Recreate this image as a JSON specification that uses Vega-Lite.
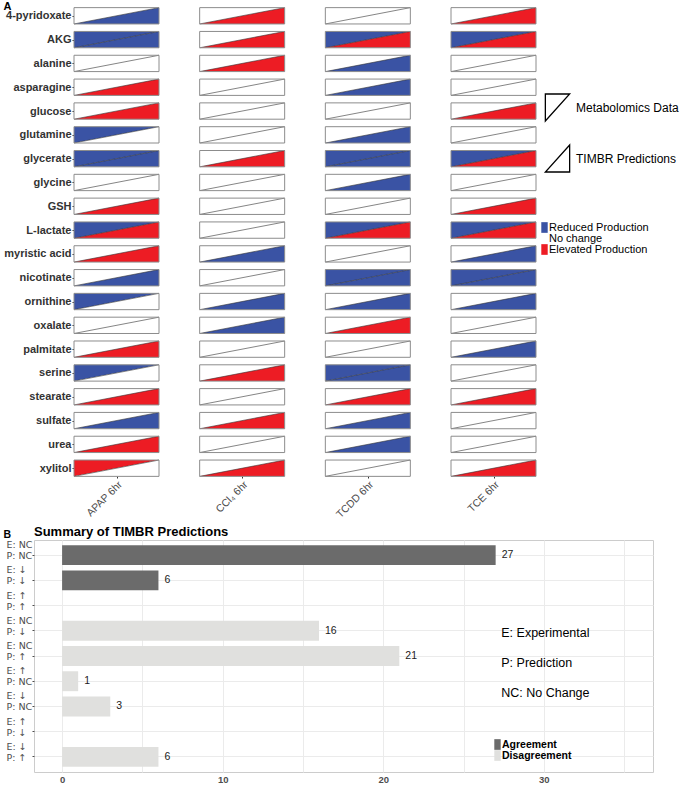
{
  "$schema": "https://vega.github.io/schema/vega-lite/v6.json",
  "padding": {"left": 2, "top": 0, "right": 0, "bottom": 0},
  "config": {"font": "Liberation Sans", "view": {"stroke": null}},
  "columns": 1,
  "align": "none",
  "spacing": 5,
  "concat": [
    {
      "width": 502,
      "height": 468,
      "resolve": {"scale": {"shape": "independent"}},
      "data": {"values": [
        {"m":"4-pyridoxate","c":"APAP 6hr","e":"NC","p":"down"},
        {"m":"AKG","c":"APAP 6hr","e":"down","p":"down"},
        {"m":"alanine","c":"APAP 6hr","e":"NC","p":"NC"},
        {"m":"asparagine","c":"APAP 6hr","e":"NC","p":"up"},
        {"m":"glucose","c":"APAP 6hr","e":"NC","p":"up"},
        {"m":"glutamine","c":"APAP 6hr","e":"down","p":"NC"},
        {"m":"glycerate","c":"APAP 6hr","e":"down","p":"down"},
        {"m":"glycine","c":"APAP 6hr","e":"NC","p":"NC"},
        {"m":"GSH","c":"APAP 6hr","e":"NC","p":"up"},
        {"m":"L-lactate","c":"APAP 6hr","e":"down","p":"up"},
        {"m":"myristic acid","c":"APAP 6hr","e":"NC","p":"up"},
        {"m":"nicotinate","c":"APAP 6hr","e":"NC","p":"down"},
        {"m":"ornithine","c":"APAP 6hr","e":"down","p":"NC"},
        {"m":"oxalate","c":"APAP 6hr","e":"NC","p":"NC"},
        {"m":"palmitate","c":"APAP 6hr","e":"NC","p":"up"},
        {"m":"serine","c":"APAP 6hr","e":"down","p":"NC"},
        {"m":"stearate","c":"APAP 6hr","e":"NC","p":"up"},
        {"m":"sulfate","c":"APAP 6hr","e":"NC","p":"down"},
        {"m":"urea","c":"APAP 6hr","e":"NC","p":"up"},
        {"m":"xylitol","c":"APAP 6hr","e":"up","p":"NC"},
        {"m":"4-pyridoxate","c":"CCl₄ 6hr","e":"NC","p":"up"},
        {"m":"AKG","c":"CCl₄ 6hr","e":"NC","p":"up"},
        {"m":"alanine","c":"CCl₄ 6hr","e":"NC","p":"up"},
        {"m":"asparagine","c":"CCl₄ 6hr","e":"NC","p":"NC"},
        {"m":"glucose","c":"CCl₄ 6hr","e":"NC","p":"NC"},
        {"m":"glutamine","c":"CCl₄ 6hr","e":"NC","p":"NC"},
        {"m":"glycerate","c":"CCl₄ 6hr","e":"NC","p":"up"},
        {"m":"glycine","c":"CCl₄ 6hr","e":"NC","p":"NC"},
        {"m":"GSH","c":"CCl₄ 6hr","e":"NC","p":"NC"},
        {"m":"L-lactate","c":"CCl₄ 6hr","e":"NC","p":"NC"},
        {"m":"myristic acid","c":"CCl₄ 6hr","e":"NC","p":"down"},
        {"m":"nicotinate","c":"CCl₄ 6hr","e":"NC","p":"NC"},
        {"m":"ornithine","c":"CCl₄ 6hr","e":"NC","p":"down"},
        {"m":"oxalate","c":"CCl₄ 6hr","e":"NC","p":"down"},
        {"m":"palmitate","c":"CCl₄ 6hr","e":"NC","p":"NC"},
        {"m":"serine","c":"CCl₄ 6hr","e":"NC","p":"up"},
        {"m":"stearate","c":"CCl₄ 6hr","e":"NC","p":"NC"},
        {"m":"sulfate","c":"CCl₄ 6hr","e":"NC","p":"up"},
        {"m":"urea","c":"CCl₄ 6hr","e":"NC","p":"NC"},
        {"m":"xylitol","c":"CCl₄ 6hr","e":"NC","p":"up"},
        {"m":"4-pyridoxate","c":"TCDD 6hr","e":"NC","p":"NC"},
        {"m":"AKG","c":"TCDD 6hr","e":"down","p":"up"},
        {"m":"alanine","c":"TCDD 6hr","e":"NC","p":"down"},
        {"m":"asparagine","c":"TCDD 6hr","e":"NC","p":"down"},
        {"m":"glucose","c":"TCDD 6hr","e":"NC","p":"NC"},
        {"m":"glutamine","c":"TCDD 6hr","e":"NC","p":"down"},
        {"m":"glycerate","c":"TCDD 6hr","e":"down","p":"down"},
        {"m":"glycine","c":"TCDD 6hr","e":"NC","p":"down"},
        {"m":"GSH","c":"TCDD 6hr","e":"NC","p":"NC"},
        {"m":"L-lactate","c":"TCDD 6hr","e":"down","p":"up"},
        {"m":"myristic acid","c":"TCDD 6hr","e":"NC","p":"NC"},
        {"m":"nicotinate","c":"TCDD 6hr","e":"down","p":"down"},
        {"m":"ornithine","c":"TCDD 6hr","e":"NC","p":"down"},
        {"m":"oxalate","c":"TCDD 6hr","e":"NC","p":"up"},
        {"m":"palmitate","c":"TCDD 6hr","e":"NC","p":"NC"},
        {"m":"serine","c":"TCDD 6hr","e":"down","p":"down"},
        {"m":"stearate","c":"TCDD 6hr","e":"NC","p":"up"},
        {"m":"sulfate","c":"TCDD 6hr","e":"NC","p":"down"},
        {"m":"urea","c":"TCDD 6hr","e":"NC","p":"down"},
        {"m":"xylitol","c":"TCDD 6hr","e":"NC","p":"NC"},
        {"m":"4-pyridoxate","c":"TCE 6hr","e":"NC","p":"up"},
        {"m":"AKG","c":"TCE 6hr","e":"down","p":"up"},
        {"m":"alanine","c":"TCE 6hr","e":"NC","p":"NC"},
        {"m":"asparagine","c":"TCE 6hr","e":"NC","p":"NC"},
        {"m":"glucose","c":"TCE 6hr","e":"NC","p":"up"},
        {"m":"glutamine","c":"TCE 6hr","e":"NC","p":"NC"},
        {"m":"glycerate","c":"TCE 6hr","e":"down","p":"up"},
        {"m":"glycine","c":"TCE 6hr","e":"NC","p":"NC"},
        {"m":"GSH","c":"TCE 6hr","e":"NC","p":"up"},
        {"m":"L-lactate","c":"TCE 6hr","e":"down","p":"up"},
        {"m":"myristic acid","c":"TCE 6hr","e":"NC","p":"down"},
        {"m":"nicotinate","c":"TCE 6hr","e":"down","p":"down"},
        {"m":"ornithine","c":"TCE 6hr","e":"NC","p":"down"},
        {"m":"oxalate","c":"TCE 6hr","e":"NC","p":"NC"},
        {"m":"palmitate","c":"TCE 6hr","e":"NC","p":"down"},
        {"m":"serine","c":"TCE 6hr","e":"NC","p":"NC"},
        {"m":"stearate","c":"TCE 6hr","e":"NC","p":"up"},
        {"m":"sulfate","c":"TCE 6hr","e":"NC","p":"NC"},
        {"m":"urea","c":"TCE 6hr","e":"NC","p":"NC"},
        {"m":"xylitol","c":"TCE 6hr","e":"NC","p":"up"}
      ]},
      "encoding": {
        "x": {"field": "c", "type": "nominal",
          "scale": {"type": "point", "domain": ["APAP 6hr","CCl₄ 6hr","TCDD 6hr","TCE 6hr"], "padding": 0, "range": [82.5, 459.5]},
          "axis": {"title": null, "domain": false, "grid": false, "ticks": true, "tickSize": 2, "tickColor": "#333333",
            "labelAngle": -45, "labelAlign": "right", "labelBaseline": "top", "labelFontSize": 10.5,
            "labelColor": "#4d4d4d", "labelPadding": 1}},
        "y": {"field": "m", "type": "nominal",
          "scale": {"type": "point", "padding": 0.3276, "domain": ["4-pyridoxate","AKG","alanine","asparagine","glucose","glutamine","glycerate","glycine","GSH","L-lactate","myristic acid","nicotinate","ornithine","oxalate","palmitate","serine","stearate","sulfate","urea","xylitol"]},
          "axis": {"title": "A", "titleAngle": 0, "titleX": -71, "titleY": -8, "titleAlign": "left", "titleBaseline": "top",
            "titleFontSize": 11, "titleFontWeight": "bold", "titleColor": "black", "offset": -40,
            "domain": false, "grid": false, "tickSize": 2, "tickColor": "#333333",
            "labelFontWeight": "bold", "labelFontSize": 11, "labelColor": "#333333", "labelPadding": 1}}
      },
      "layer": [
        {
          "transform": [{"fold": ["e", "p"], "as": ["part", "val"]}],
          "mark": {"type": "point", "filled": true, "size": 7225, "opacity": 1, "strokeWidth": 0},
          "encoding": {
            "shape": {"field": "part", "type": "nominal",
              "scale": {"domain": ["e", "p"], "range": ["M-1,-0.192L1,-0.192L-1,0.192Z", "M1,-0.192L1,0.192L-1,0.192Z"]},
              "legend": null},
            "fill": {"field": "val", "type": "nominal",
              "scale": {"domain": ["down", "NC", "up"], "range": ["#3A53A4", "#FFFFFF", "#ED1C24"]},
              "legend": {"orient": "none", "legendX": 505, "legendY": 214, "title": null,
                "symbolType": "M-0.6,-1L0.6,-1L0.6,1L-0.6,1Z", "symbolSize": 114, "symbolStrokeWidth": 0,
                "rowPadding": -1, "labelOffset": -1, "labelFontSize": 11, "labelColor": "black",
                "labelExpr": "datum.value == 'down' ? 'Reduced Production' : datum.value == 'NC' ? 'No change' : 'Elevated Production'"}}
          }
        },
        {
          "mark": {"type": "point", "filled": false, "size": 7225, "opacity": 1, "shape": "M-1,0.192L1,-0.192", "stroke": "#333333", "strokeWidth": 0.6},
          "encoding": {}
        },
        {
          "mark": {"type": "point", "filled": false, "size": 7225, "opacity": 1, "shape": "M-1,-0.192L1,-0.192L1,0.192L-1,0.192Z", "stroke": "#8c8c8c", "strokeWidth": 1},
          "encoding": {}
        },
        {
          "transform": [{"fold": ["e", "p"], "as": ["part", "val"]}, {"filter": "false"}],
          "mark": {"type": "point", "filled": false, "stroke": "black", "strokeWidth": 1.3, "opacity": 1},
          "encoding": {
            "shape": {"field": "part", "type": "nominal",
              "scale": {"domain": ["e", "p"], "range": ["M-0.9,-1L0.9,-1L-0.9,1Z", "M0.9,-1L0.9,1L-0.9,1Z"]},
              "legend": {"orient": "none", "legendX": 509, "legendY": 85, "title": null, "symbolSize": 729,
                "rowPadding": 18, "labelOffset": 4, "labelFontSize": 12, "labelColor": "black",
                "symbolStrokeColor": "black", "symbolStrokeWidth": 1.3, "symbolFillColor": "transparent",
                "labelExpr": "datum.value == 'e' ? 'Metabolomics Data' : 'TIMBR Predictions'"}}
          }
        }
      ]
    },
    {
      "width": 619,
      "height": 232,
      "view": {"stroke": "#cccccc"},
      "title": {"text": "Summary of TIMBR Predictions", "anchor": "start", "frame": "group", "fontSize": 13, "fontWeight": "bold", "color": "black", "offset": -10},
      "data": {"values": [
        {"cat": "E: NC|P: NC", "n": 27, "t": "Agreement"},
        {"cat": "E: ↓|P: ↓", "n": 6, "t": "Agreement"},
        {"cat": "E: ↑|P: ↑", "n": 0, "t": "Agreement"},
        {"cat": "E: NC|P: ↓", "n": 16, "t": "Disagreement"},
        {"cat": "E: NC|P: ↑", "n": 21, "t": "Disagreement"},
        {"cat": "E: ↑|P: NC", "n": 1, "t": "Disagreement"},
        {"cat": "E: ↓|P: NC", "n": 3, "t": "Disagreement"},
        {"cat": "E: ↑|P: ↓", "n": 0, "t": "Disagreement"},
        {"cat": "E: ↓|P: ↑", "n": 6, "t": "Disagreement"}
      ]},
      "encoding": {
        "y": {"field": "cat", "type": "nominal",
          "scale": {"type": "band", "paddingInner": 0.21, "paddingOuter": 0.205,
            "domain": ["E: NC|P: NC","E: ↓|P: ↓","E: ↑|P: ↑","E: NC|P: ↓","E: NC|P: ↑","E: ↑|P: NC","E: ↓|P: NC","E: ↑|P: ↓","E: ↓|P: ↑"]},
          "axis": {"title": "B", "titleAngle": 0, "titleX": -31, "titleY": -3, "titleAlign": "left", "titleBaseline": "alphabetic",
            "titleFontSize": 10.5, "titleFontWeight": "bold", "titleColor": "black",
            "labelExpr": "split(datum.label, '|')", "labelAlign": "left", "labelPadding": 26, "labelFontSize": 9.5,
            "labelFont": "DejaVu Sans", "labelLineHeight": 11, "labelBaseline": "middle", "labelOffset": -10, "labelColor": "#4d4d4d",
            "domain": false, "tickSize": 2, "tickColor": "#4d4d4d", "bandPosition": 0.5,
            "grid": true, "gridColor": "#ebebeb"}},
        "x": {"field": "n", "type": "quantitative",
          "scale": {"domain": [-1.75, 36.8], "nice": false, "zero": false},
          "axis": {"title": null, "values": [0, 5, 10, 15, 20, 25, 30, 35],
            "labelExpr": "datum.value % 10 === 0 ? datum.label : ''", "ticks": false, "domain": false,
            "grid": true, "gridColor": "#ebebeb", "labelFontWeight": "bold", "labelFontSize": 9.5,
            "labelColor": "#4d4d4d", "labelPadding": 2}}
      },
      "layer": [
        {
          "mark": {"type": "bar"},
          "encoding": {
            "color": {"field": "t", "type": "nominal",
              "scale": {"domain": ["Agreement", "Disagreement"], "range": ["#6b6b6b", "#e0e0de"]},
              "legend": {"orient": "none", "legendX": 458, "legendY": 731, "title": null,
                "symbolType": "M-0.6,-1L0.6,-1L0.6,1L-0.6,1Z", "symbolSize": 114, "symbolStrokeWidth": 0,
                "rowPadding": -1, "labelOffset": -1, "labelFontSize": 10.5, "labelFontWeight": "bold", "labelColor": "black"}}
          }
        },
        {
          "transform": [{"filter": "datum.n > 0"}],
          "mark": {"type": "text", "align": "left", "baseline": "middle", "dx": 6, "fontSize": 10.5, "color": "#1a1a1a"},
          "encoding": {"text": {"field": "n", "type": "quantitative"}}
        },
        {
          "data": {"values": [{"x": 27.35, "cat": "E: NC|P: ↑"}]},
          "mark": {"type": "text", "align": "left", "baseline": "middle", "dy": -23, "fontSize": 12.5, "lineHeight": 30, "color": "black",
            "text": ["E: Experimental", "P: Prediction", "NC: No Change"]},
          "encoding": {"x": {"field": "x", "type": "quantitative"}}
        }
      ]
    }
  ]
}
